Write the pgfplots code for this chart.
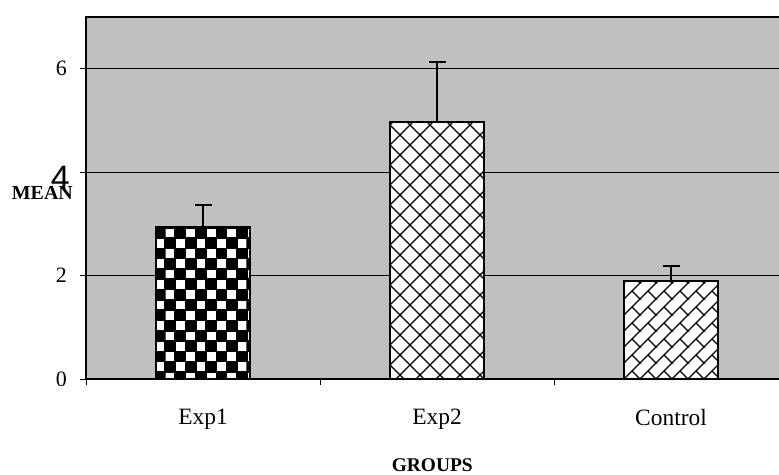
\documentclass[border=0pt]{standalone}
\usepackage{fontspec}
\setmainfont{Liberation Serif}
\setsansfont{Liberation Sans}
\usepackage{pgfplots}
\pgfplotsset{compat=1.18}
\usetikzlibrary{patterns.meta}

\definecolor{plotgray}{RGB}{192,192,192}

% fill patterns of the three bars
\tikzdeclarepattern{
  name=bigchecker, type=uncolored,
  bottom left={(-0.8bp,-0.8bp)}, top right={(21.4bp,21.4bp)},
  tile size={(20.6bp,20.6bp)},
  code={\fill (-0.8bp,-0.8bp) rectangle (11.1bp,11.1bp);
        \fill (9.5bp,9.5bp) rectangle (21.4bp,21.4bp);}
}
\tikzdeclarepattern{
  name=bigcross, type=uncolored,
  bottom left={(-1bp,-1bp)}, top right={(21bp,21bp)},
  tile size={(20bp,20bp)},
  code={\draw[line width=1.3bp] (-1bp,-1bp) -- (21bp,21bp);
        \draw[line width=1.3bp] (-1bp,21bp) -- (21bp,-1bp);}
}
\tikzdeclarepattern{
  name=diagbrick, type=uncolored,
  bottom left={(-1bp,-1bp)}, top right={(17bp,17bp)},
  tile size={(16bp,16bp)},
  code={\draw[line width=1.3bp] (-1bp,-1bp) -- (17bp,17bp);
        \draw[line width=1.3bp] (8bp,8bp) -- (16.7bp,-0.7bp);}
}

\begin{document}
\begin{tikzpicture}
\begin{axis}[
  at={(0,0)}, anchor=south west,
  scale only axis, width=702bp, height=362bp,
  xmin=-0.5, xmax=2.5, ymin=0, ymax=7,
  clip=false,
  axis background/.style={fill=plotgray},
  axis line style={line width=1.8bp},
  ybar, bar width=0.40, bar shift=0pt,
  xtick={-0.5,0.5,1.5,2.5}, xticklabels={},
  extra x ticks={0,1,2},
  extra x tick labels={Exp1,Exp2,Control},
  extra x tick style={major tick length=0pt},
  xtick pos=bottom, ytick pos=left,
  tick align=outside, major tick length=6bp,
  tick style={line width=0.9bp, black},
  ytick={0,2,4,6}, yticklabels={0,2,,6},
  ymajorgrids, grid style={black, line width=0.9bp},
  xticklabel style={font=\fontsize{23.5}{23.5}\selectfont, anchor=north, inner sep=0pt, yshift=-30bp},
  yticklabel style={font=\fontsize{22}{22}\selectfont, anchor=east, inner sep=0pt, xshift=-13bp},
  xlabel={GROUPS},
  xlabel style={at={(axis cs:0.98,0)}, anchor=center, yshift=-86bp, font=\bfseries\fontsize{19.5}{19.5}\selectfont},
  every axis plot/.append style={draw=black, line width=1.8bp, fill=white},
  error bars/y dir=plus, error bars/y explicit,
  error bars/error bar style={line width=1.7bp, black},
  error bars/error mark options={rotate=90, mark size=8.5bp, line width=1.9bp, black},
]
\addplot[postaction={pattern=bigchecker}] coordinates {(0,2.94) +- (0,0.43)};
\addplot[postaction={pattern=bigcross}] coordinates {(1,4.97) +- (0,1.16)};
\addplot[postaction={pattern=diagbrick}] coordinates {(2,1.90) +- (0,0.28)};

\node[anchor=east, inner sep=0pt, xshift=-16bp, yshift=-5.5bp,
      font=\sffamily\fontsize{34}{34}\selectfont] at (axis cs:-0.5,4) {4};
\node[anchor=east, inner sep=0pt, xshift=-13bp,
      font=\bfseries\fontsize{20}{20}\selectfont] at (axis cs:-0.5,3.59) {MEAN};
\end{axis}
\pgfresetboundingbox
\useasboundingbox (-86bp,-96bp) rectangle (693bp,379bp);
\end{tikzpicture}
\end{document}
